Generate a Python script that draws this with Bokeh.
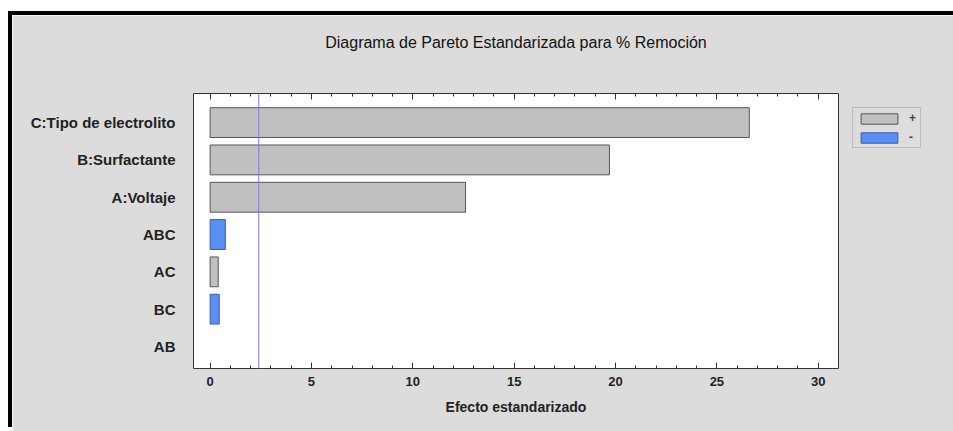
from bokeh.plotting import figure
from bokeh.models import (ColumnDataSource, Range1d, FixedTicker, LinearAxis, Span,
                          Legend, LegendItem)
from bokeh.embed import file_html
from bokeh.resources import INLINE

# ---- data ----
title_text = "Diagrama de Pareto Estandarizada para % Remoción"
factors = ["C:Tipo de electrolito", "B:Surfactante", "A:Voltaje", "ABC", "AC", "BC", "AB"]
effects = [26.6, 19.7, 12.6, 0.75, 0.4, 0.45, 0.0]
signs = ["+", "+", "+", "-", "+", "-", "+"]
critical = 2.4
x_ticks = [0, 5, 10, 15, 20, 25, 30]

n = len(factors)
ypos = [n - i for i in range(n)]

pos = dict(y=[], v=[], la=[])
neg = dict(y=[], v=[], la=[])
for yy, v, s in zip(ypos, effects, signs):
    d = pos if s == "+" else neg
    d["y"].append(yy)
    d["v"].append(v)
    d["la"].append(1.0 if v > 0 else 0.0)

FONT = "Liberation Sans"

p = figure(frame_width=645, frame_height=275, output_backend="svg", toolbar_location=None,
           x_range=Range1d(-0.82, 31.0), y_range=Range1d(0.41, 7.78),
           min_border_left=181, min_border_right=115, min_border_top=78,
           min_border_bottom=63)
p.margin = (15, 0, 0, 12)
p.styles = {"box-shadow": "-4px -4px 0 0 #000000, 4px -4px 0 0 #000000"}

p.background_fill_color = "white"
p.border_fill_color = "#dcdcdc"
p.outline_line_color = "#333333"
p.outline_line_width = 1
p.grid.visible = False

rp = p.hbar(y="y", right="v", left=0, height=0.8, source=ColumnDataSource(pos),
            fill_color="#c0c0c0", line_color="#555555", line_width=1, line_alpha="la")
rn = p.hbar(y="y", right="v", left=0, height=0.8, source=ColumnDataSource(neg),
            fill_color="#5b8ef2", line_color="#3d5f9e", line_width=1, line_alpha="la")

p.add_layout(Span(location=critical, dimension="height", line_color="#7b7bea", line_width=1))

# x axis
xa = p.xaxis[0]
xa.ticker = FixedTicker(ticks=x_ticks, minor_ticks=list(range(0, 31)))
xa.axis_label = "Efecto estandarizado"
xa.axis_label_text_font = FONT
xa.axis_label_text_font_style = "bold"
xa.axis_label_text_font_size = "14px"
xa.axis_label_text_color = "#222222"
xa.axis_label_standoff = 10
xa.major_label_text_font = FONT
xa.major_label_text_font_style = "bold"
xa.major_label_text_font_size = "13px"
xa.major_label_text_color = "#222222"
xa.major_label_standoff = 8
xa.axis_line_color = None
xa.major_tick_in = 6
xa.major_tick_out = 0
xa.minor_tick_in = 3
xa.minor_tick_out = 0
xa.major_tick_line_color = "#333333"
xa.minor_tick_line_color = "#333333"

# top axis carries the mirrored ticks and the chart title
top = LinearAxis(ticker=FixedTicker(ticks=x_ticks, minor_ticks=list(range(0, 31))))
top.major_label_text_font_size = "0px"
top.major_label_text_alpha = 0
top.axis_line_color = None
top.major_tick_in = 6
top.major_tick_out = 0
top.minor_tick_in = 3
top.minor_tick_out = 0
top.major_tick_line_color = "#333333"
top.minor_tick_line_color = "#333333"
top.major_label_standoff = 0
top.axis_label = title_text
top.axis_label_text_font = FONT
top.axis_label_text_font_style = "normal"
top.axis_label_text_font_size = "16px"
top.axis_label_text_color = "#111111"
top.axis_label_standoff = 43
p.add_layout(top, "above")

# y axis
ya = p.yaxis[0]
ya.ticker = FixedTicker(ticks=ypos)
ya.major_label_overrides = {yy: f for yy, f in zip(ypos, factors)}
ya.major_label_text_font = FONT
ya.major_label_text_font_style = "bold"
ya.major_label_text_font_size = "15px"
ya.major_label_text_color = "#222222"
ya.major_label_standoff = 12
ya.axis_line_color = None
ya.major_tick_line_color = None
ya.minor_tick_line_color = None

legend = Legend(items=[LegendItem(label="+", renderers=[rp]),
                       LegendItem(label="-", renderers=[rn])],
                location="top_left")
legend.glyph_width = 46
legend.glyph_height = 13
legend.label_text_font = FONT
legend.label_text_font_style = "bold"
legend.label_text_font_size = "12px"
legend.label_standoff = 7
legend.label_height = 10
legend.label_width = 8
legend.spacing = 5
legend.padding = 3
legend.margin = 14
legend.background_fill_color = "#dcdcdc"
legend.border_line_color = "#999999"
p.add_layout(legend, "right")

open("out.html", "w").write(file_html(p, INLINE))
